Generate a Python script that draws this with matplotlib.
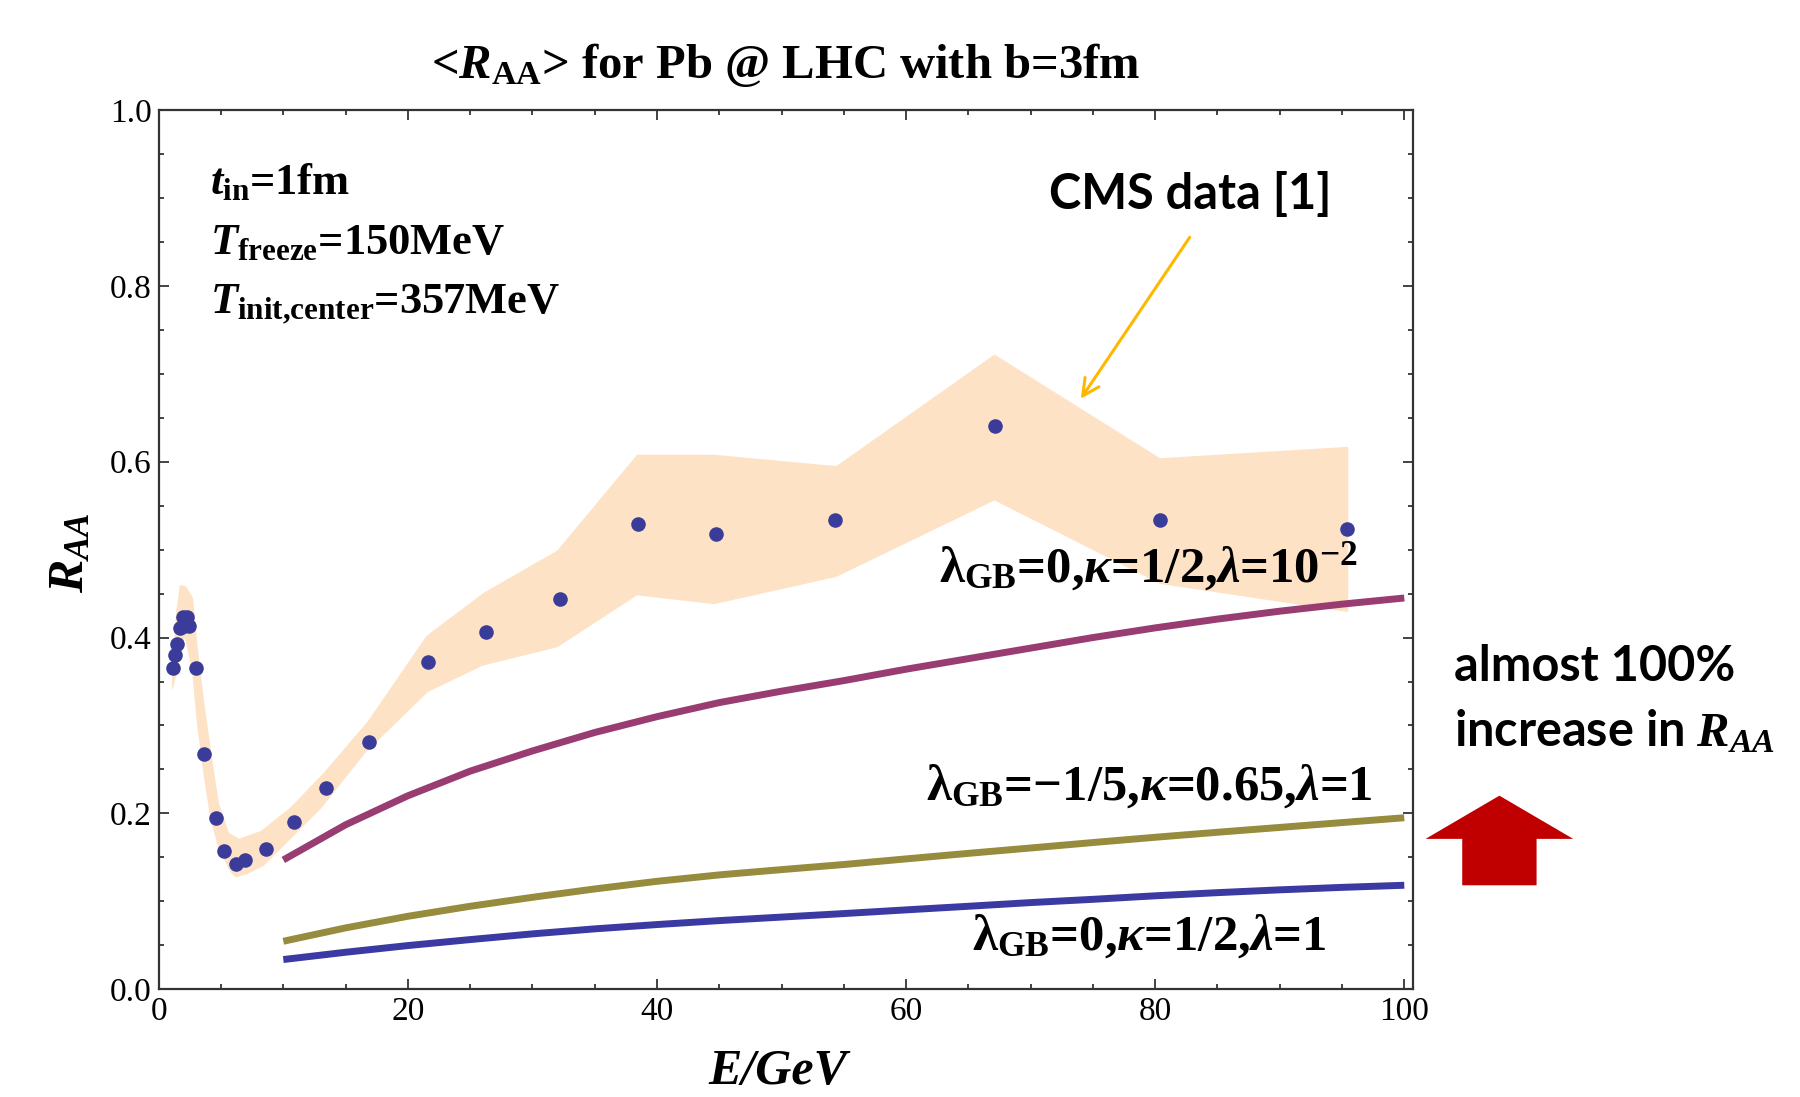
import matplotlib
matplotlib.use("Agg")
import matplotlib.pyplot as plt
from matplotlib.patches import FancyArrow
from matplotlib.ticker import MultipleLocator

plt.rcParams['font.family'] = ['Liberation Serif', 'DejaVu Serif']
plt.rcParams['mathtext.fontset'] = 'custom'
plt.rcParams['mathtext.rm'] = 'Liberation Serif:bold'
plt.rcParams['mathtext.it'] = 'Liberation Serif:italic:bold'
plt.rcParams['mathtext.bf'] = 'Liberation Serif:bold'

# ---------------- data ----------------
cms_E = [1.15, 1.3, 1.5, 1.7, 1.95, 2.05, 2.25, 2.45, 2.95, 3.67, 4.56, 5.22, 6.17, 6.89,
         8.58, 10.86, 13.4, 16.9, 21.6, 26.3, 32.2, 38.5, 44.7, 54.3, 67.1, 80.4, 95.4]
cms_R = [0.365, 0.380, 0.393, 0.411, 0.423, 0.413, 0.423, 0.413, 0.365, 0.267, 0.195, 0.157,
         0.142, 0.147, 0.159, 0.190, 0.229, 0.281, 0.372, 0.406, 0.444, 0.529, 0.518, 0.534,
         0.641, 0.534, 0.524]

band_up_E = [1.05, 1.1, 1.4, 1.7, 2.2, 2.75, 3.08, 3.61, 4.29, 4.82, 5.63, 6.43, 8.2, 10.6,
             13.3, 16.8, 21.5, 26.1, 32.0, 38.4, 44.6, 54.4, 67.1, 80.4, 95.5]
band_up_R = [0.34, 0.37, 0.43, 0.46, 0.458, 0.445, 0.395, 0.33, 0.262, 0.212, 0.178, 0.171,
             0.18, 0.207, 0.247, 0.305, 0.402, 0.451, 0.499, 0.608, 0.608, 0.595, 0.722,
             0.604, 0.617]
band_lo_E = [1.05, 1.2, 1.6, 2.1, 2.68, 3.08, 3.61, 4.15, 4.82, 5.76, 6.17, 7.1, 8.4, 13.0,
             16.6, 21.6, 26.0, 32.0, 38.4, 44.6, 54.4, 67.1, 80.4, 95.5]
band_lo_R = [0.34, 0.345, 0.37, 0.40, 0.361, 0.300, 0.243, 0.193, 0.159, 0.133, 0.127,
             0.131, 0.140, 0.205, 0.269, 0.338, 0.368, 0.389, 0.448, 0.438, 0.469, 0.556,
             0.461, 0.429]

theory_E = [10, 15, 20, 25, 30, 35, 40, 45, 50, 55, 60, 65, 70, 75, 80, 85, 90, 95, 100]
purple_R = [0.147, 0.187, 0.220, 0.248, 0.271, 0.292, 0.310, 0.326, 0.339, 0.351, 0.364,
            0.376, 0.388, 0.400, 0.411, 0.421, 0.430, 0.438, 0.445]
olive_R = [0.0545, 0.0697, 0.0829, 0.0943, 0.1045, 0.114, 0.1227, 0.1300, 0.1360, 0.1418,
           0.1482, 0.1545, 0.1606, 0.1668, 0.1728, 0.1785, 0.1840, 0.1895, 0.1950]
blue_R = [0.0337, 0.0420, 0.0496, 0.0564, 0.0629, 0.0686, 0.0735, 0.0780, 0.0820, 0.0860,
          0.0902, 0.0943, 0.0985, 0.1022, 0.1062, 0.1098, 0.1130, 0.1158, 0.1182]

x_ticks = [0, 20, 40, 60, 80, 100]
y_ticks = [0.0, 0.2, 0.4, 0.6, 0.8, 1.0]

# ---------------- figure ----------------
fig = plt.figure(figsize=(18, 10.97), dpi=100)
ax = fig.add_axes([0.0882, 0.0983, 0.6968, 0.8013])

poly_E = band_up_E + band_lo_E[::-1]
poly_R = band_up_R + band_lo_R[::-1]
ax.fill(poly_E, poly_R, color='#FEE2C6', lw=0, zorder=1)

ax.plot(cms_E, cms_R, 'o', color='#3B3B99', ms=10.5, mec='none', zorder=4)

for vals, col in ((purple_R, '#983C72'), (olive_R, '#978B3E'), (blue_R, '#3A3AA2')):
    ax.plot(theory_E, vals, color=col, lw=5, solid_capstyle='butt',
            solid_joinstyle='round', zorder=3)

ax.set_xlim(0, 100.7)
ax.set_ylim(0, 1.0)
ax.set_xticks(x_ticks)
ax.set_xticklabels([str(v) for v in x_ticks])
ax.set_yticks(y_ticks)
ax.set_yticklabels(['%.1f' % v for v in y_ticks])
ax.xaxis.set_minor_locator(MultipleLocator(5))
ax.yaxis.set_minor_locator(MultipleLocator(0.05))
ax.tick_params(which='both', direction='in', top=True, right=True, color='#222222', width=1.2)
ax.tick_params(which='major', length=7, labelsize=24, pad=5)
ax.tick_params(which='minor', length=3.5)
for s in ax.spines.values():
    s.set_linewidth(1.6)
    s.set_color('#333333')

# text inside the plot
tfs = 32
ax.text(4.1, 0.905, r'$t_{\mathrm{in}}$=1fm', fontsize=tfs, fontweight='bold', va='baseline')
ax.text(4.1, 0.836, r'$T_{\mathrm{freeze}}$=150MeV', fontsize=tfs, fontweight='bold', va='baseline')
ax.text(4.1, 0.769, r'$T_{\mathrm{init{,}center}}$=357MeV', fontsize=tfs, fontweight='bold',
        va='baseline')

lfs = 36.5
ax.text(79.5, 0.464, r'λ$_{\mathrm{GB}}$=0,$\kappa$=1/2,$\lambda$=10$^{-2}$', fontsize=lfs,
        fontweight='bold', ha='center', va='baseline', zorder=5)
ax.text(79.5, 0.216, r'λ$_{\mathrm{GB}}$=−1/5,$\kappa$=0.65,$\lambda$=1', fontsize=lfs,
        fontweight='bold', ha='center', va='baseline', zorder=5)
ax.text(79.5, 0.045, r'λ$_{\mathrm{GB}}$=0,$\kappa$=1/2,$\lambda$=1', fontsize=lfs,
        fontweight='bold', ha='center', va='baseline', zorder=5)

ax.annotate('', xy=(73.9, 0.669), xytext=(82.9, 0.858),
            arrowprops=dict(arrowstyle='->', color='#FFB800', lw=2.2,
                            mutation_scale=30), zorder=6)

# title and axis labels
fig.text(0.4365, 0.9287, r'<$R_{\mathrm{AA}}$> for Pb @ LHC with b=3fm', fontsize=35,
         fontweight='bold', ha='center', va='baseline')
fig.text(0.4324, 0.012, 'E/GeV', fontsize=36, fontweight='bold', style='italic',
         ha='center', va='baseline')
fig.text(0.0395, 0.4958, r'$R_{AA}$', fontsize=36, rotation=90, ha='center', va='center')

# sans annotations
fig.text(0.583, 0.8096, 'CMS data [1]', fontsize=35, fontweight='bold', family='Lato',
         ha='left', va='baseline')
fig.text(0.8077, 0.3789, 'almost 100%', fontsize=35, fontweight='bold', family='Lato',
         ha='left', va='baseline')
fig.text(0.8077, 0.320, r'increase in $R_{AA}$', fontsize=35, fontweight='bold', family='Lato',
         ha='left', va='baseline')

arrow = FancyArrow(0.833, 0.193, 0, 0.0817, width=0.0413, head_width=0.082,
                   head_length=0.0394, length_includes_head=True,
                   transform=fig.transFigure, color='#C00000', lw=0)
fig.patches.append(arrow)

fig.savefig('out.png', dpi=100)
